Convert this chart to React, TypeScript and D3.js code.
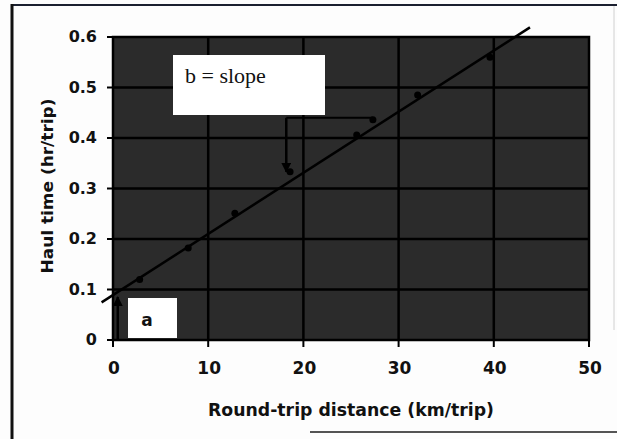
import React from 'react';
import * as d3 from 'd3';

// observed trips
const distance = [2.8, 7.9, 12.8, 18.6, 25.6, 27.3, 32, 39.6];
const haulTime = [0.12, 0.182, 0.251, 0.333, 0.406, 0.436, 0.485, 0.56];

// fitted line: time = a + b * distance
const intercept = 0.089;
const slope = 0.0121;
const fitRange = [-1.2, 43.8];

const xTicks = [0, 10, 20, 30, 40, 50];
const yTicks = [0, 0.1, 0.2, 0.3, 0.4, 0.5, 0.6];

// slope triangle + intercept arrow (data coords)
const slopeRun = [18.2, 27.3];
const slopeRise = [0.44, 0.333];
const interceptX = 0.5;

const W = 617, H = 439;
const plot = {left: 113, right: 589, top: 37, bottom: 340};

export default function App() {
    const x = d3.scaleLinear().domain([0, 50]).range([plot.left, plot.right]);
    const y = d3.scaleLinear().domain([0, 0.6]).range([plot.bottom, plot.top]);

    const fitLine = d3.line<number>()
        .x(d => x(d))
        .y(d => y(intercept + slope * d));

    const tickFont = '"DejaVu Sans", sans-serif';

    return (
        <div style={{position: 'absolute', left: 0, top: 0}}>
            <svg width={W} height={H} style={{display: 'block', background: '#fdfdfd'}}>
                <defs>
                    <marker id="arrow" viewBox="0 0 10 10" refX="9" refY="5" markerWidth="4" markerHeight="4" orient="auto-start-reverse">
                        <path d="M0,0 L10,5 L0,10 z" fill="#000"/>
                    </marker>
                </defs>

                {/* scanned frame */}
                <line x1={12} y1={5} x2={W} y2={5} stroke="#1b2030" strokeWidth={2}/>
                <line x1={12} y1={4} x2={12} y2={H} stroke="#111" strokeWidth={3}/>
                <line x1={614} y1={6} x2={614} y2={330} stroke="#d0d0d0" strokeWidth={1}/>
                <line x1={310} y1={432} x2={W} y2={432} stroke="#555" strokeWidth={2}/>

                {/* plot area */}
                <rect x={plot.left} y={plot.top} width={plot.right - plot.left} height={plot.bottom - plot.top} fill="#2b2b2b"/>

                {xTicks.slice(1, -1).map(t => (
                    <line key={'gx' + t} x1={x(t)} x2={x(t)} y1={plot.top} y2={plot.bottom} stroke="#000" strokeWidth={2.5}/>
                ))}
                {yTicks.slice(1, -1).map(t => (
                    <line key={'gy' + t} x1={plot.left} x2={plot.right} y1={y(t)} y2={y(t)} stroke="#000" strokeWidth={2.5}/>
                ))}
                <rect x={plot.left} y={plot.top} width={plot.right - plot.left} height={plot.bottom - plot.top} fill="none" stroke="#000" strokeWidth={2.5}/>

                {/* axis ticks + labels */}
                {yTicks.map(t => (
                    <g key={'ty' + t}>
                        <line x1={plot.left - 6} x2={plot.left} y1={y(t)} y2={y(t)} stroke="#000" strokeWidth={2}/>
                        <text x={97} y={y(t) + 5} textAnchor="end" fontFamily={tickFont} fontWeight="bold" fontSize={16} fill="#111">
                            {t === 0 ? '0' : d3.format('.1f')(t)}
                        </text>
                    </g>
                ))}
                {xTicks.map(t => (
                    <g key={'tx' + t}>
                        <line x1={x(t)} x2={x(t)} y1={plot.bottom} y2={plot.bottom + 7} stroke="#000" strokeWidth={2}/>
                        <text x={x(t) + 1} y={374} textAnchor="middle" fontFamily={tickFont} fontWeight="bold" fontSize={17} fill="#111">
                            {t}
                        </text>
                    </g>
                ))}

                <text x={351} y={416} textAnchor="middle" fontFamily={tickFont} fontWeight="bold" fontSize={17}
                      textLength={286} lengthAdjust="spacingAndGlyphs" fill="#111">
                    Round-trip distance (km/trip)
                </text>
                <text transform="translate(53,186) rotate(-90)" textAnchor="middle" fontFamily={tickFont} fontWeight="bold" fontSize={16}
                      textLength={175} lengthAdjust="spacingAndGlyphs" fill="#111">
                    Haul time (hr/trip)
                </text>

                {/* fitted line and points */}
                <path d={fitLine(fitRange) || ''} fill="none" stroke="#000" strokeWidth={2.5}/>
                {distance.map((d, i) => (
                    <circle key={'p' + i} cx={x(d)} cy={y(haulTime[i])} r={3.5} fill="#000"/>
                ))}

                {/* b = slope */}
                <rect x={173} y={55} width={152} height={60} fill="#fff"/>
                <text x={185} y={83} fontFamily='"Liberation Serif", serif' fontSize={22} fill="#111">b = slope</text>
                <line x1={x(slopeRun[0])} x2={x(slopeRun[1])} y1={y(slopeRise[0])} y2={y(slopeRise[0])} stroke="#000" strokeWidth={2}/>
                <line x1={x(slopeRun[0])} x2={x(slopeRun[0])} y1={y(slopeRise[0])} y2={y(slopeRise[1])} stroke="#000" strokeWidth={2.5} markerEnd="url(#arrow)"/>

                {/* a = intercept */}
                <rect x={128} y={298} width={49} height={40} fill="#fff"/>
                <text x={147} y={326} textAnchor="middle" fontFamily={tickFont} fontWeight="bold" fontSize={17} fill="#111">a</text>
                <line x1={x(interceptX)} x2={x(interceptX)} y1={y(0)} y2={y(intercept) + 2} stroke="#000" strokeWidth={2.5} markerEnd="url(#arrow)"/>
            </svg>
        </div>
    );
}
